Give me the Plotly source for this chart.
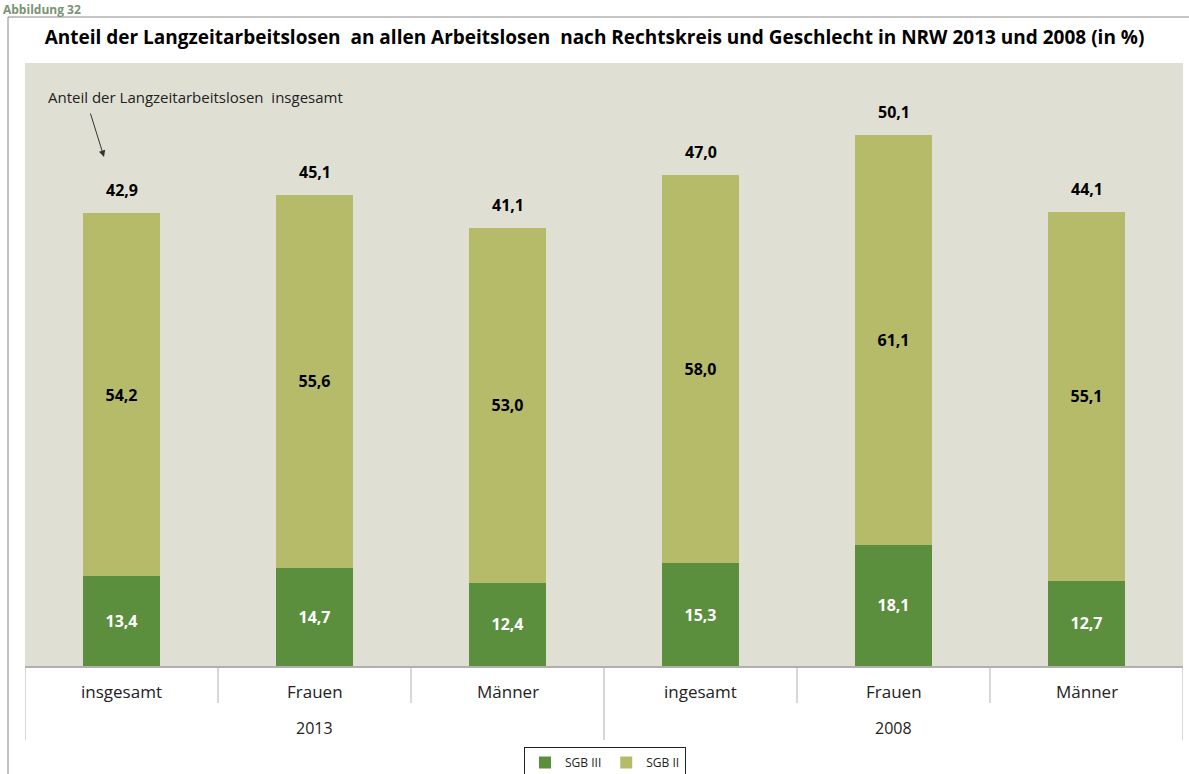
import plotly.graph_objects as go

# --- data ---
years = ["2013", "2013", "2013", "2008", "2008", "2008"]
groups = ["insgesamt", "Frauen", "Männer", "ingesamt", "Frauen", "Männer"]
sgb3 = [13.4, 14.7, 12.4, 15.3, 18.1, 12.7]
sgb2 = [54.2, 55.6, 53.0, 58.0, 61.1, 55.1]
gesamt = [42.9, 45.1, 41.1, 47.0, 50.1, 44.1]
year_labels = ["2013", "2008"]

DARK = "#5b8f3d"
LIGHT = "#b6bb69"
BG = "#dfe0d3"
FONT = "Open Sans, sans-serif"

W, H = 1189, 774
ML, MR, MT, MB = 25, 6, 63, 108
PW, PH = W - ML - MR, H - MT - MB


def px_x(x):
    return (x - ML) / PW


def px_y(y):
    return (H - MB - y) / PH


def de(v):
    return f"{v:.1f}".replace(".", ",")


xs = list(range(len(groups)))

fig = go.Figure()
fig.add_trace(go.Bar(
    x=xs, y=sgb3, name="SGB III",
    marker=dict(color=DARK, line_width=0),
    text=[de(v) for v in sgb3], textposition="inside", insidetextanchor="middle",
    textfont=dict(color="white", size=16, family=FONT, weight="bold"),
))
fig.add_trace(go.Bar(
    x=xs, y=sgb2, name="SGB II",
    marker=dict(color=LIGHT, line_width=0),
    text=[de(v) for v in sgb2], textposition="inside", insidetextanchor="middle",
    textfont=dict(color="black", size=16, family=FONT, weight="bold"),
))

annotations = []
# total share labels above bars
for i, (a, b, g) in enumerate(zip(sgb3, sgb2, gesamt)):
    annotations.append(dict(
        x=i, y=a + b, xref="x", yref="y", text=de(g), showarrow=False,
        yanchor="bottom", yshift=10,
        font=dict(size=16, family=FONT, color="black", weight="bold"),
    ))

# category labels (two rows)
for i, g in enumerate(groups):
    annotations.append(dict(
        x=i, y=px_y(691), xref="x", yref="paper", yanchor="middle", text=g,
        showarrow=False, font=dict(size=17, family=FONT, color="#222"),
    ))
n_per_year = len(groups) // len(year_labels)
for j, yl in enumerate(year_labels):
    annotations.append(dict(
        x=j * n_per_year + (n_per_year - 1) / 2, y=px_y(728), xref="x", yref="paper",
        yanchor="middle", text=yl, showarrow=False,
        font=dict(size=16, family=FONT, color="#222"),
    ))

# note + arrow
annotations.append(dict(
    x=px_x(46), y=px_y(97), xref="paper", yref="paper", xanchor="left", yanchor="middle",
    text="Anteil der Langzeitarbeitslosen  insgesamt", showarrow=False,
    font=dict(size=15, family=FONT, color="#222"),
))
annotations.append(dict(
    x=px_x(104), y=px_y(157), xref="paper", yref="paper", text="",
    showarrow=True, ax=-14, ay=-45, arrowhead=2, arrowsize=1.3, arrowwidth=1,
    arrowcolor="#333",
))

# figure caption in the top-left corner
annotations.append(dict(
    x=px_x(2), y=px_y(0), xref="paper", yref="paper", xanchor="left", yanchor="top",
    text="Abbildung 32", showarrow=False, borderpad=0,
    font=dict(size=12, family=FONT, color="#7a9373", weight="bold"),
))

shapes = []
# divider lines of the category table
for k in range(len(groups) + 1):
    long_line = k % n_per_year == 0
    shapes.append(dict(
        type="line", xref="x", yref="paper", x0=k - 0.5, x1=k - 0.5,
        y0=0, y1=px_y(740 if long_line else 703),
        line=dict(color="#b0b0b0", width=1),
    ))
# outer frame
FRAME_TOP = 17
shapes.append(dict(type="line", xref="paper", yref="paper",
                   x0=px_x(8), x1=px_x(W), y0=px_y(FRAME_TOP), y1=px_y(FRAME_TOP),
                   line=dict(color="#888", width=1)))
shapes.append(dict(type="line", xref="paper", yref="paper",
                   x0=px_x(8), x1=px_x(8), y0=px_y(FRAME_TOP), y1=px_y(H + 5),
                   line=dict(color="#888", width=1)))

fig.update_layout(
    width=W, height=H,
    margin=dict(l=ML, r=MR, t=MT, b=MB, autoexpand=False),
    barmode="stack", bargap=0.6,
    paper_bgcolor="white", plot_bgcolor=BG,
    font=dict(family=FONT, color="#222"),
    title=dict(
        text="<b>Anteil der Langzeitarbeitslosen  an allen Arbeitslosen  nach Rechtskreis und Geschlecht in NRW 2013 und 2008 (in %)</b>",
        x=0.5, xanchor="center", y=1 - 37 / H, yanchor="middle",
        font=dict(size=19, family=FONT, color="black"),
    ),
    xaxis=dict(range=[-0.5, len(groups) - 0.5], showticklabels=False, ticks="",
               showgrid=False, zeroline=False, showline=True,
               linecolor="#b0b0b0", linewidth=2, fixedrange=True),
    yaxis=dict(range=[0, 90], visible=False, showgrid=False, fixedrange=True),
    legend=dict(orientation="h", x=px_x(605), xanchor="center", y=px_y(747), yanchor="top",
                bordercolor="#222", borderwidth=1, font=dict(size=12, family=FONT),
                itemwidth=30, traceorder="normal"),
    annotations=annotations,
    shapes=shapes,
    showlegend=True,
)

# page body margin off, so figure pixels map 1:1 to the window
fig.write_html("out.html", config={"displayModeBar": False},
               post_script="document.body.style.margin='0';")
